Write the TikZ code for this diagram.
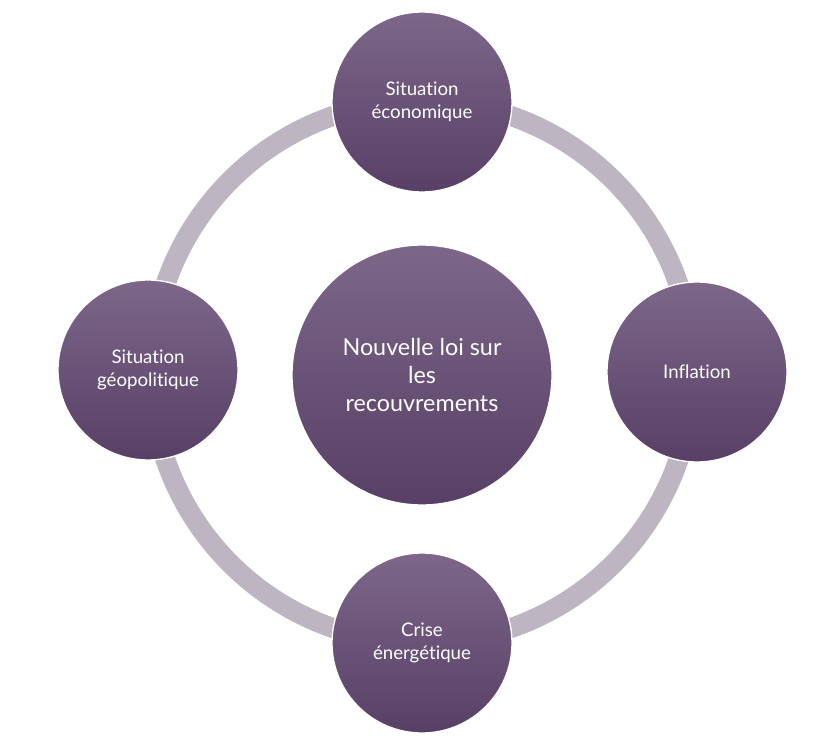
\documentclass[tikz,border=0pt]{standalone}
\usepackage{fontspec}
\setmainfont[Ligatures=NoCommon]{Lato}
\usetikzlibrary{positioning}

\definecolor{plumtop}{HTML}{7C6789}
\definecolor{plumbot}{HTML}{583F66}
\definecolor{ringgray}{HTML}{BDB5C1}

\tikzset{
  topic/.style={circle, minimum size=180*0.75pt, inner sep=0pt,
    top color=plumtop, bottom color=plumbot, draw=white, line width=1pt,
    text=white, align=center, font=\fontsize{14}{17}\selectfont},
  hub/.style={topic, minimum size=260*0.75pt,
    font=\fontsize{17.5}{21}\selectfont}
}

\begin{document}
\begin{tikzpicture}[x=0.75pt, y=0.75pt]
\useasboundingbox (0,0) rectangle (840,744);

% ring behind the circles
\draw[ringgray, line width=20*0.75pt] (422,372) circle (271);

\node[hub] (law) at (422,369) {Nouvelle loi sur\\les\\recouvrements};

\node[topic] (eco) at (422,642) {Situation\\économique};
\node[topic] (infl) at (697,372) {Inflation};
\node[topic] (energy) at (422,101) {Crise\\énergétique};
\node[topic] (geo) at (148,374) {Situation\\géopolitique};

\end{tikzpicture}
\end{document}
